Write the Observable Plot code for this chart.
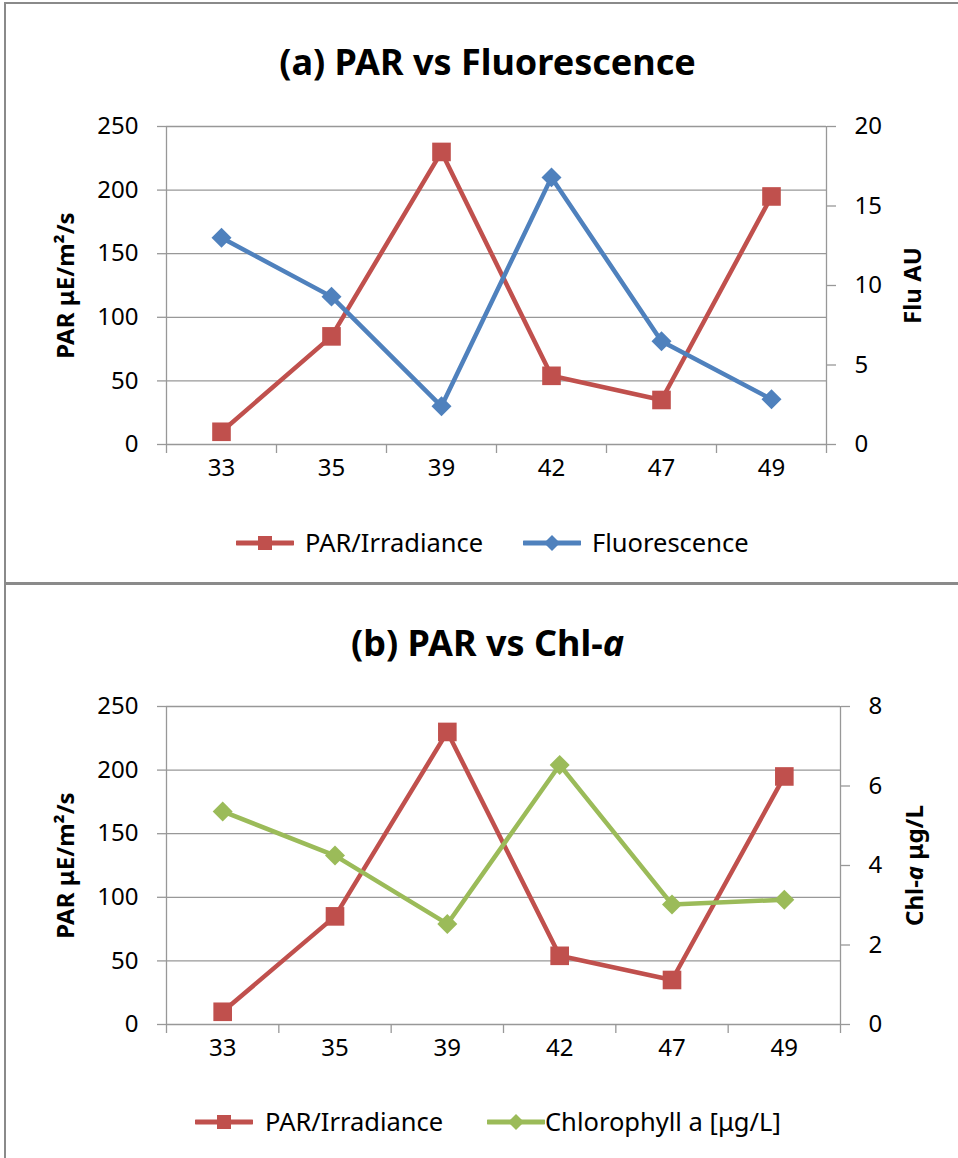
<!DOCTYPE html>
<html>
<head>
<meta charset="utf-8">
<script src="https://cdn.jsdelivr.net/npm/d3@7"></script>
<script src="https://cdn.jsdelivr.net/npm/@observablehq/plot@0.6"></script>
<style>
  body { margin: 0; background: #fff; font-family: "Noto Sans", sans-serif; color: #000; }
  #page { position: relative; width: 958px; height: 1158px; overflow: hidden; background: #fff; }
  .bt { position: absolute; left: 4px; top: 2px; right: 0; height: 2px; background: #8a8a8a; }
  .bl { position: absolute; left: 4px; top: 2px; width: 2px; bottom: 0; background: #8a8a8a; }
  .dv { position: absolute; left: 4px; right: 0; top: 582px; height: 3px; background: #8a8a8a; }
  .title { position: absolute; left: 0; width: 975px; text-align: center; font-weight: bold; font-size: 36px; line-height: 40px; }
  .chart { position: absolute; left: 0; }
  .lg { position: absolute; font-size: 25.5px; line-height: 30px; white-space: nowrap; }
  .sw { position: absolute; }
</style>
</head>
<body>
<div id="page">
  <div class="bt"></div>
  <div class="bl"></div>
  <div class="dv"></div>
  <div class="title" style="top:42px">(a) PAR vs Fluorescence</div>
  <div class="title" style="top:623px">(b) PAR vs Chl-<i>a</i></div>
  <div class="chart" id="c1" style="top:100px"></div>
  <div class="chart" id="c2" style="top:680px"></div>
</div>
<script>
// ---- data ----
const categories = ["33", "35", "39", "42", "47", "49"];
const parA = [10, 85, 230, 54, 35, 195];
const fluorescence = [13.0, 9.3, 2.4, 16.8, 6.5, 2.85];
const parB = [10, 85, 230, 54, 35, 195];
const chlorophyll = [5.36, 4.25, 2.53, 6.53, 3.02, 3.14];
const parTicks = [0, 50, 100, 150, 200, 250];
const fluTicks = [0, 5, 10, 15, 20];
const chlTicks = [0, 2, 4, 6, 8];

const RED = "#C0504D", BLUE = "#4F81BD", GREEN = "#9BBB59", GRID = "#989898";

function chart(o) {
  const k = 250 / o.secMax;
  const rows = categories.map((c, i) => ({i, c, par: o.par[i], sec: o.sec[i]}));
  const n = categories.length;
  const bounds = d3.range(n + 1).map(b => b - 0.5);
  return Plot.plot({
    width: 958, height: 392,
    marginTop: 26, marginBottom: 48, marginLeft: 166, marginRight: o.mr,
    style: {fontFamily: '"Noto Sans", sans-serif', fontSize: "24px", color: "#000", background: "transparent"},
    x: {type: "linear", domain: [-0.5, n - 0.5]},
    y: {domain: [0, 250]},
    marks: [
      Plot.gridY(parTicks, {stroke: GRID, strokeOpacity: 1, strokeWidth: 1.3}),
      Plot.ruleX([-0.5, n - 0.5], {stroke: GRID, strokeWidth: 1.3}),
      Plot.axisX(bounds, {tickSize: 9, tickFormat: () => "", stroke: GRID, strokeWidth: 1.3, label: null}),
      Plot.axisX(rows.map(d => d.i), {tickSize: 0, tickPadding: 14, tickFormat: i => categories[i], label: null}),
      Plot.axisY(parTicks, {anchor: "left", tickSize: 9, tickPadding: 19, stroke: GRID, strokeWidth: 1.3, label: null}),
      Plot.axisY(o.secTicks.map(v => v * k), {anchor: "right", tickSize: 9, tickPadding: 19, tickFormat: v => String(+(v / k).toFixed(2)), stroke: GRID, strokeWidth: 1.3, label: null}),
      Plot.text([o.leftLabel], {frameAnchor: "left", dx: -100, rotate: -90, textAnchor: "middle", fontWeight: "bold"}),
      Plot.text([o.rightLabel], {frameAnchor: "right", dx: o.rdx, rotate: -90, textAnchor: "middle", fontWeight: "bold"}),
      Plot.line(rows, {x: "i", y: "par", stroke: RED, strokeWidth: 4.5}),
      Plot.dot(rows, {x: "i", y: "par", symbol: "square", r: 10.5, fill: RED}),
      Plot.line(rows, {x: "i", y: d => d.sec * k, stroke: o.color, strokeWidth: 4.5}),
      Plot.dot(rows, {x: "i", y: d => d.sec * k, symbol: "diamond2", r: 9, fill: o.color})
    ]
  });
}

const p1 = chart({par: parA, sec: fluorescence, secMax: 20, secTicks: fluTicks, color: BLUE, mr: 132, rdx: 87,
  leftLabel: "PAR μE/m²/s", rightLabel: "Flu AU"});
document.getElementById("c1").appendChild(p1);

const p2 = chart({par: parB, sec: chlorophyll, secMax: 8, secTicks: chlTicks, color: GREEN, mr: 118, rdx: 75,
  leftLabel: "PAR μE/m²/s", rightLabel: "Chl-a μg/L"});
document.getElementById("c2").appendChild(p2);
// italic "a" in Chl-a
d3.select(p2).selectAll("text").filter(function() { return this.textContent === "Chl-a μg/L"; }).each(function() {
  const t = d3.select(this);
  t.text("");
  t.append("tspan").text("Chl-");
  t.append("tspan").attr("font-style", "italic").text("a");
  t.append("tspan").text(" μg/L");
});

// ---- legends (below each chart) ----
function legend(items, cy) {
  const page = document.getElementById("page");
  for (const it of items) {
    const sw = document.createElementNS("http://www.w3.org/2000/svg", "svg");
    sw.setAttribute("class", "sw");
    sw.setAttribute("width", 58); sw.setAttribute("height", 20);
    sw.style.left = it.x0 + "px"; sw.style.top = (cy - 10) + "px";
    const s = d3.select(sw);
    s.append("line").attr("x1", 1).attr("x2", 57).attr("y1", 10).attr("y2", 10)
      .attr("stroke", it.color).attr("stroke-width", 5).attr("stroke-linecap", "round");
    if (it.symbol === "square") {
      s.append("rect").attr("x", 29 - 7).attr("y", 3).attr("width", 14).attr("height", 14).attr("fill", it.color);
    } else {
      s.append("path").attr("d", "M29,2L37,10L29,18L21,10Z").attr("fill", it.color);
    }
    page.appendChild(sw);
    const d = document.createElement("div");
    d.className = "lg";
    d.style.left = it.tx + "px"; d.style.top = (cy - 16) + "px";
    d.textContent = it.label;
    page.appendChild(d);
  }
}
legend([
  {color: RED, symbol: "square", x0: 236, tx: 305, label: "PAR/Irradiance"},
  {color: BLUE, symbol: "diamond", x0: 523, tx: 592, label: "Fluorescence"}
], 543);
legend([
  {color: RED, symbol: "square", x0: 195, tx: 265, label: "PAR/Irradiance"},
  {color: GREEN, symbol: "diamond", x0: 487, tx: 545, label: "Chlorophyll a [μg/L]"}
], 1122);
</script>
</body>
</html>
